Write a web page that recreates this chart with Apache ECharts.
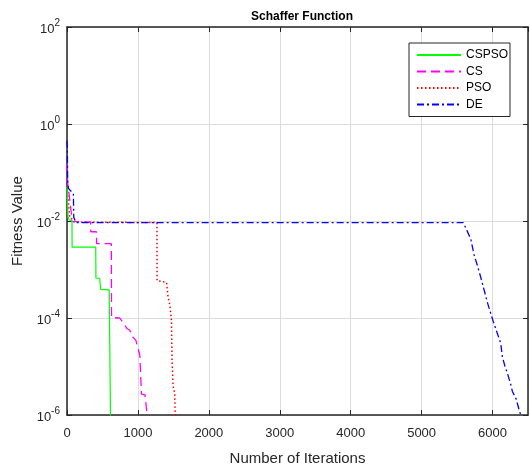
<!DOCTYPE html>
<html>
<head>
<meta charset="utf-8">
<script src="https://cdn.jsdelivr.net/npm/echarts@6/dist/echarts.min.js"></script>
<style>
html,body{margin:0;padding:0;background:#fff;}
#chart{width:530px;height:471px;}
</style>
</head>
<body>
<div id="chart"></div>
<script>
// Series data: [iteration, fitness value]
const seriesNames = ['CSPSO', 'CS', 'PSO', 'DE'];
const cspsoData = [[0,0.05],[5,0.03],[15,0.012],[30,0.0105],[70,0.0102],[72,0.0029],[405,0.0029],[408,6.6e-4],[460,6.6e-4],[475,3.9e-4],[595,3.8e-4],[614,7e-7]];
const csData = [[0,0.15],[10,0.06],[30,0.035],[60,0.015],[66,0.0098],[333,0.0095],[335,0.006],[415,0.006],[418,0.0034],[625,0.0034],[628,1.02e-4],[745,1.0e-4],[790,8e-5],[816,7.6e-5],[850,6e-5],[886,5.6e-5],[930,4e-5],[970,3.5e-5],[1000,2.4e-5],[1027,1.7e-5],[1045,1.6e-5],[1050,2.7e-6],[1100,2.6e-6],[1140,7e-7]];
const psoData = [[0,0.06],[10,0.035],[25,0.02],[40,0.0115],[70,0.011],[100,0.0095],[1268,0.0093],[1270,5.9e-4],[1330,5.7e-4],[1403,5.4e-4],[1411,4.3e-4],[1425,2.7e-4],[1449,1.9e-4],[1473,8.9e-5],[1481,1.4e-5],[1496,3.9e-6],[1519,2.8e-6],[1525,2.6e-6],[1528,7e-7]];
const deData = [[0,0.45],[5,0.3],[10,0.06],[20,0.047],[50,0.042],[90,0.037],[95,0.012],[125,0.0093],[5585,0.0093],[5623,0.0072],[5694,0.0042],[5740,0.0020],[5787,0.0012],[5834,6.9e-4],[5871,4.3e-4],[5927,2.1e-4],[5975,1.23e-4],[6012,8.3e-5],[6068,4.8e-5],[6116,3.0e-5],[6138,1.6e-5],[6176,1.0e-5],[6209,7.3e-6],[6256,4.3e-6],[6279,3.1e-6],[6335,2.1e-6],[6373,1.3e-6],[6397,1.0e-6],[6420,7e-7]];
const xTicks = [0,1000,2000,3000,4000,5000,6000];
const yExponents = [-6,-4,-2,0,2];

const FONT = '"Liberation Sans", Arial, sans-serif';
const chart = echarts.init(document.getElementById('chart'), null, {renderer: 'canvas'});

function supLabel(v) {
  const e = Math.round(Math.log10(v));
  return yExponents.includes(e) ? '{b|10}{s|' + e + '}' : '';
}
const richSup = {
  b: {fontSize: 13, fontFamily: FONT, color: '#262626', lineHeight: 18, verticalAlign: 'bottom'},
  s: {fontSize: 10, fontFamily: FONT, color: '#262626', lineHeight: 18, verticalAlign: 'top'}
};

const axisLineStyle = {lineStyle: {color: '#262626', width: 1.5}};
const gridGray = {show: true, lineStyle: {color: '#dcdcdc', width: 1}};

chart.setOption({
  animation: false,
  backgroundColor: '#ffffff',
  title: {
    text: 'Schaffer Function',
    left: 297, top: 6, textAlign: 'center',
    textStyle: {fontFamily: FONT, fontSize: 12, fontWeight: 'bold', color: '#000'}
  },
  legend: {
    orient: 'vertical',
    left: 409, top: 43,
    padding: [6, 2, 6, 7],
    itemWidth: 44, itemHeight: 14, itemGap: 4.5,
    backgroundColor: '#fff',
    borderColor: '#262626', borderWidth: 1,
    itemStyle: {opacity: 0},
    textStyle: {fontFamily: FONT, fontSize: 12, color: '#000'},
    data: seriesNames
  },
  grid: {left: 67, top: 27, right: 2, bottom: 52, containLabel: false},
  xAxis: [{
    type: 'value', min: 0, max: 6500, interval: 1000,
    name: 'Number of Iterations', nameLocation: 'middle', nameGap: 36,
    nameTextStyle: {fontFamily: FONT, fontSize: 15, color: '#262626'},
    axisLine: {show: true, onZero: false, ...axisLineStyle},
    axisTick: {show: true, inside: true, length: 5, lineStyle: {color: '#262626'}},
    axisLabel: {fontFamily: FONT, fontSize: 13, color: '#262626', margin: 12, showMaxLabel: false,
      formatter: v => xTicks.includes(v) ? String(v) : ''},
    splitLine: gridGray
  }, {
    type: 'value', min: 0, max: 6500, interval: 1000, position: 'top',
    axisLine: {show: true, onZero: false, ...axisLineStyle},
    axisTick: {show: true, inside: true, length: 5, lineStyle: {color: '#262626'}},
    axisLabel: {show: false}, splitLine: {show: false}
  }],
  yAxis: [{
    type: 'log', logBase: 10, min: 1e-6, max: 100, interval: 2,
    name: 'Fitness Value', nameLocation: 'middle', nameGap: 36,
    nameTextStyle: {fontFamily: FONT, fontSize: 15, color: '#262626'},
    axisLine: {show: true, onZero: false, ...axisLineStyle},
    axisTick: {show: true, inside: true, length: 5, lineStyle: {color: '#262626'}},
    axisLabel: {margin: 7, formatter: supLabel, rich: richSup},
    splitLine: gridGray,
    minorTick: {show: false}
  }, {
    type: 'log', logBase: 10, min: 1e-6, max: 100, interval: 2, position: 'right',
    axisLine: {show: true, onZero: false, ...axisLineStyle},
    axisTick: {show: true, inside: true, length: 5, lineStyle: {color: '#262626'}},
    axisLabel: {show: false}, splitLine: {show: false}
  }],
  series: [
    {name: 'CSPSO', type: 'line', data: cspsoData, symbol: 'none', clip: true, z: 4,
      itemStyle: {color: '#00ff00'}, lineStyle: {color: '#00ff00', width: 1.2, type: 'solid'}},
    {name: 'CS', type: 'line', data: csData, symbol: 'none', clip: true, z: 3,
      itemStyle: {color: '#ff00ff'}, lineStyle: {color: '#ff00ff', width: 1.3, type: [9, 5]}},
    {name: 'PSO', type: 'line', data: psoData, symbol: 'none', clip: true, z: 2,
      itemStyle: {color: '#ff0000'}, lineStyle: {color: '#ff0000', width: 1.5, type: [1.5, 2.5]}},
    {name: 'DE', type: 'line', data: deData, symbol: 'none', clip: true, z: 5,
      itemStyle: {color: '#0000ff'}, lineStyle: {color: '#0000ff', width: 1.3, type: [7, 3, 2, 3]}}
  ]
});
</script>
</body>
</html>
